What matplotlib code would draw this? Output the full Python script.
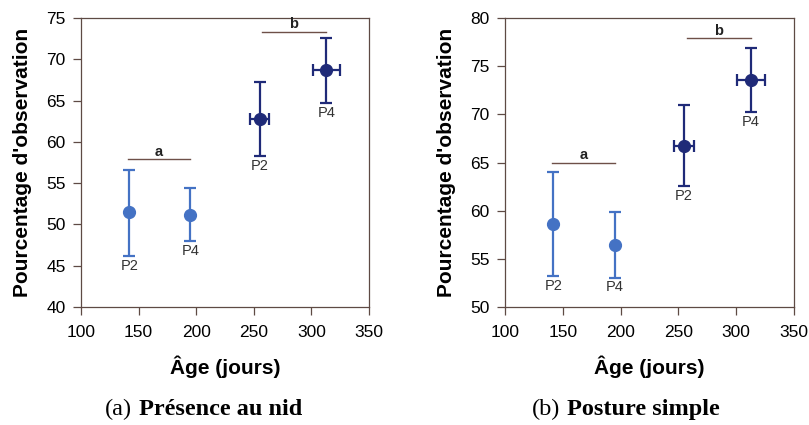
import numpy as np
import matplotlib
matplotlib.use("Agg")
import matplotlib.pyplot as plt
from matplotlib.offsetbox import TextArea, HPacker, AnnotationBbox

plt.rcParams["font.family"] = ["Liberation Sans", "DejaVu Sans"]

# Data (age in days, percentage of observation)
ages = [142, 195, 255, 313]
age_err = [0, 0, 8.5, 12]
period_labels = ["P2", "P4", "P2", "P4"]
group = ["a", "a", "b", "b"]

nid_mean = [51.45, 51.2, 62.8, 68.65]
nid_low = [46.2, 48.0, 58.3, 64.7]
nid_high = [56.6, 54.45, 67.3, 72.6]
nid_brackets = {"a": (140.5, 194.2, 57.9), "b": (257.5, 312.4, 73.35)}

posture_mean = [58.6, 56.45, 66.75, 73.55]
posture_low = [53.2, 53.05, 62.55, 70.25]
posture_high = [64.0, 59.85, 71.0, 76.9]
posture_brackets = {"a": (141, 195.4, 65.0), "b": (257.4, 313, 77.9)}

light_blue = "#4472C4"
dark_blue = "#1F2A78"
spine_col = "#5E4A44"
bracket_col = "#6E5048"


def draw_panel(ax, mean, low, high, brackets, ylim, yticks):
    for i in range(len(ages)):
        col = light_blue if group[i] == "a" else dark_blue
        yerr = [[mean[i] - low[i]], [high[i] - mean[i]]]
        xerr = [[age_err[i]], [age_err[i]]] if age_err[i] > 0 else None
        ax.errorbar(ages[i], mean[i], yerr=yerr, xerr=xerr, fmt="o", color=col,
                    ms=8.5, elinewidth=1.6, capsize=4, capthick=1.6, zorder=3)
        ax.annotate(period_labels[i], (ages[i], low[i]), xytext=(0, -2),
                    textcoords="offset points", ha="center", va="top",
                    fontsize=10.5, color="#333333")
    for letter, (x0, x1, y) in brackets.items():
        ax.plot([x0, x1], [y, y], color=bracket_col, lw=1.0)
        ax.annotate(letter, ((x0 + x1) / 2, y), xytext=(0, 0.5),
                    textcoords="offset points", ha="center", va="bottom",
                    fontsize=10.5, fontweight="bold", color="#222222")
    ax.set_xlim(100, 350)
    ax.set_ylim(*ylim)
    ax.set_xticks([100, 150, 200, 250, 300, 350])
    ax.set_yticks(yticks)
    ax.tick_params(direction="out", length=6, width=0.9, color=spine_col,
                   labelsize=12.5, pad=5)
    ax.tick_params(axis="x", pad=7)
    for s in ax.spines.values():
        s.set_color(spine_col)
        s.set_linewidth(0.9)
    ax.set_xlabel("Âge (jours)", fontsize=15, fontweight="bold", labelpad=11)
    ax.set_ylabel("Pourcentage d'observation", fontsize=15, fontweight="bold",
                  labelpad=10)


def caption(fig, x, y, tag, title):
    parts = HPacker(children=[
        TextArea(tag, textprops=dict(fontsize=17.5, family="Liberation Serif")),
        TextArea(title, textprops=dict(fontsize=17.5, family="Liberation Serif",
                                        fontweight="bold")),
    ], align="baseline", pad=0, sep=5)
    ab = AnnotationBbox(parts, (x, y), xycoords="figure fraction",
                        box_alignment=(0.5, 0.0), frameon=False)
    fig.add_artist(ab)


fig = plt.figure(figsize=(8.09, 4.25), dpi=100)
ax1 = fig.add_axes([0.1001, 0.2776, 0.356, 0.68])
ax2 = fig.add_axes([0.6242, 0.2776, 0.357, 0.68])

draw_panel(ax1, nid_mean, nid_low, nid_high, nid_brackets, (40, 75),
           [40, 45, 50, 55, 60, 65, 70, 75])
draw_panel(ax2, posture_mean, posture_low, posture_high, posture_brackets,
           (50, 80), [50, 55, 60, 65, 70, 75, 80])

caption(fig, 0.252, 0.012, "(a)", "Présence au nid")
caption(fig, 0.774, 0.012, "(b)", "Posture simple")

fig.savefig("out.png", dpi=100)
